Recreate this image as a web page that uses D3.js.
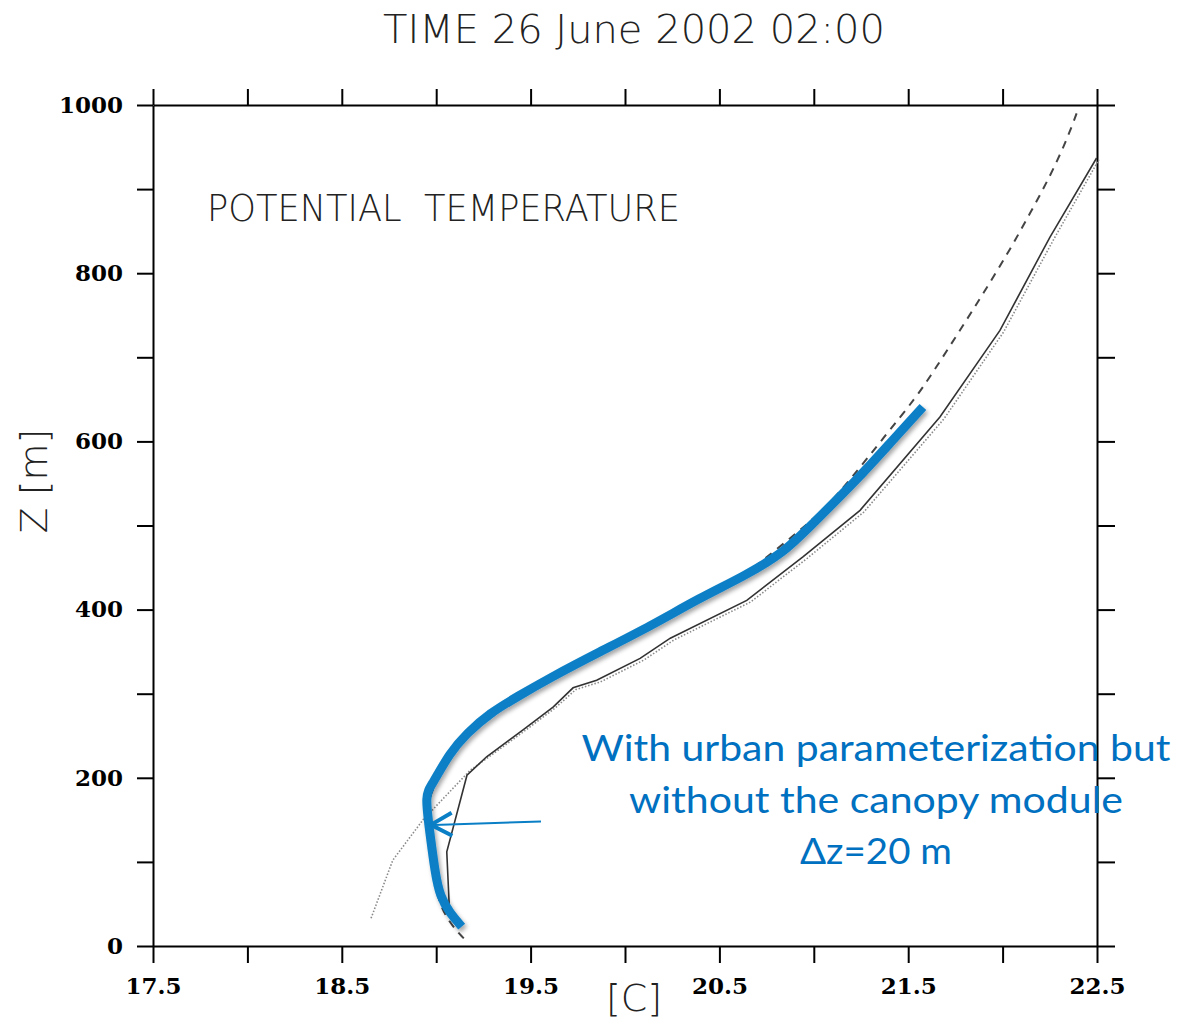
<!DOCTYPE html>
<html>
<head>
<meta charset="utf-8">
<script src="https://cdn.jsdelivr.net/npm/d3@7"></script>
<style>
  html, body { margin: 0; padding: 0; background: #fff; }
  svg { display: block; }
</style>
</head>
<body>
<svg id="chart" width="1178" height="1019"></svg>
<script>
// ---------------- DATA ----------------
const titleText = "TIME 26 June 2002 02:00";
const panelLabel = "POTENTIAL  TEMPERATURE";
const xAxisLabel = "[C]";
const yAxisLabel = "Z [m]";
const annotationLines = ["With urban parameterization but", "without the canopy module", "\u0394z=20 m"];

const xDomain = [17.5, 22.5];
const yDomain = [0, 1000];
const xTicks = [17.5, 18, 18.5, 19, 19.5, 20, 20.5, 21, 21.5, 22, 22.5];
const xTickLabels = [17.5, 18.5, 19.5, 20.5, 21.5, 22.5];
const yTicks = [0, 100, 200, 300, 400, 500, 600, 700, 800, 900, 1000];
const yTickLabels = [0, 200, 400, 600, 800, 1000];

// solid profile
const solidT = [19.07, 19.056, 19.163, 19.267, 19.46, 19.619, 19.725, 19.85, 20.08, 20.24, 20.645, 20.944, 21.245, 21.668, 21.986, 22.251, 22.498];
const solidZ = [43, 112, 203, 225, 257, 284, 307, 316, 342, 366, 411, 463, 518, 629, 732, 843, 937];

// dotted profile
const dottedT = [18.655, 18.77, 18.93, 19.18, 19.28, 19.47, 19.63, 19.74, 19.87, 20.1, 20.26, 20.665, 20.965, 21.265, 21.69, 22.005, 22.27, 22.51];
const dottedZ = [33, 102, 150, 209, 225, 256, 283, 305, 314, 340, 364, 409, 461, 516, 627, 730, 840, 935];

// dashed profile
const dashedT = [19.146, 19.06, 19.0, 18.97, 18.95, 18.99, 19.08, 19.28, 19.6, 20.13, 20.40, 20.62, 20.733, 20.909, 21.05, 21.192, 21.368, 21.545, 21.651, 21.774, 21.898, 22.039, 22.145, 22.251, 22.339, 22.392];
const dashedZ = [9, 30, 60, 110, 170, 190, 230, 277, 318, 380, 413, 440, 459, 491, 518, 554, 604, 653, 689, 732, 776, 828, 871, 915, 958, 990];

// highlighted (blue) profile
const blueT = [19.135, 19.073, 19.020, 18.994, 18.967, 18.940, 18.976, 19.073, 19.162, 19.285, 19.426, 19.603, 19.868, 20.132, 20.397, 20.625, 20.837, 20.980, 21.227, 21.404, 21.578];
const blueZ = [23, 39, 59, 87, 134, 180, 191, 230, 253, 277, 296, 319, 350, 380, 414, 439, 467, 499, 554, 598, 641];

// arrow (from, to) in data units
const arrowT = [19.555, 18.972];
const arrowZ = [148, 144];

// ---------------- CHART ----------------
const svg = d3.select("#chart");
const x = d3.scaleLinear().domain(xDomain).range([153, 1097]);
const y = d3.scaleLinear().domain(yDomain).range([946, 105]);

const defs = svg.append("defs");
const f = defs.append("filter").attr("id", "shadow")
  .attr("x", "-20%").attr("y", "-20%").attr("width", "140%").attr("height", "140%");
f.append("feDropShadow").attr("dx", 2).attr("dy", 3).attr("stdDeviation", 2)
  .attr("flood-color", "#000").attr("flood-opacity", 0.35);

const labelFont = "'DejaVu Serif', serif";
const thinFont = "'DejaVu Sans', sans-serif";

function styleAxis(g) {
  g.selectAll("path.domain").attr("stroke", "#000").attr("stroke-width", 2);
  g.selectAll(".tick line").attr("stroke", "#000").attr("stroke-width", 2);
  g.selectAll(".tick text").attr("fill", "#000")
    .style("font-family", labelFont).style("font-weight", "bold").style("font-size", "23px");
}

const fmtX = v => xTickLabels.some(t => Math.abs(t - v) < 1e-9) ? d3.format(".1f")(v) : "";
const fmtY = v => yTickLabels.includes(v) ? String(v) : "";

svg.append("g").attr("transform", `translate(0,${y(0)})`)
  .call(d3.axisBottom(x).tickValues(xTicks).tickFormat(fmtX).tickSize(17).tickSizeOuter(0).tickPadding(15))
  .call(styleAxis);
svg.append("g").attr("transform", `translate(0,${y(1000)})`)
  .call(d3.axisTop(x).tickValues(xTicks).tickFormat(() => "").tickSize(16).tickSizeOuter(0))
  .call(styleAxis);
svg.append("g").attr("transform", `translate(${x(17.5)},0)`)
  .call(d3.axisLeft(y).tickValues(yTicks).tickFormat(fmtY).tickSize(16).tickSizeOuter(0).tickPadding(14))
  .call(styleAxis);
svg.append("g").attr("transform", `translate(${x(22.5)},0)`)
  .call(d3.axisRight(y).tickValues(yTicks).tickFormat(() => "").tickSize(18).tickSizeOuter(0))
  .call(styleAxis);

// profiles
const pts = (T, Z) => T.map((t, i) => [x(t), y(Z[i])]);
const lineLin = d3.line();
const lineSmooth = d3.line().curve(d3.curveBasis);

svg.append("path").attr("d", lineLin(pts(dottedT, dottedZ)))
  .attr("fill", "none").attr("stroke", "#8a8a8a").attr("stroke-width", 1.6)
  .attr("stroke-dasharray", "1.5,1.8");
svg.append("path").attr("d", lineLin(pts(solidT, solidZ)))
  .attr("fill", "none").attr("stroke", "#333").attr("stroke-width", 1.6);
svg.append("path").attr("d", lineSmooth(pts(dashedT, dashedZ)))
  .attr("fill", "none").attr("stroke", "#444").attr("stroke-width", 2)
  .attr("stroke-dasharray", "8,7");

svg.append("path").attr("d", lineSmooth(pts(blueT, blueZ)))
  .attr("fill", "none").attr("stroke", "#0a7fc6").attr("stroke-width", 9)
  .attr("stroke-linejoin", "round").attr("stroke-linecap", "butt")
  .attr("filter", "url(#shadow)");

// arrow
const ax0 = x(arrowT[0]), ay0 = y(arrowZ[0]), ax1 = x(arrowT[1]), ay1 = y(arrowZ[1]);
svg.append("line").attr("x1", ax0).attr("y1", ay0).attr("x2", ax1 + 3).attr("y2", ay1)
  .attr("stroke", "#0a7fc6").attr("stroke-width", 2);
const ang = Math.atan2(ay0 - ay1, ax0 - ax1);
const hl = 24, ha = 0.5;
svg.append("path")
  .attr("d", `M${ax1 + hl * Math.cos(ang - ha)},${ay1 + hl * Math.sin(ang - ha)} L${ax1},${ay1} L${ax1 + hl * Math.cos(ang + ha)},${ay1 + hl * Math.sin(ang + ha)}`)
  .attr("fill", "none").attr("stroke", "#0a7fc6").attr("stroke-width", 4)
  .attr("stroke-linejoin", "miter");

// texts
svg.append("text").attr("x", 634).attr("y", 43).attr("text-anchor", "middle")
  .attr("textLength", 502).attr("lengthAdjust", "spacingAndGlyphs")
  .style("font-family", thinFont).style("font-weight", 200).style("font-size", "39px")
  .attr("fill", "#222").text(titleText);

svg.append("text").attr("x", 207).attr("y", 221)
  .attr("textLength", 473).attr("lengthAdjust", "spacingAndGlyphs")
  .style("font-family", thinFont).style("font-weight", 200).style("font-size", "38px")
  .style("white-space", "pre").attr("fill", "#222").text(panelLabel);

svg.append("text").attr("transform", "translate(47,481) rotate(-90)").attr("text-anchor", "middle")
  .style("font-family", thinFont).style("font-weight", 200).style("font-size", "38px")
  .attr("fill", "#222").text(yAxisLabel);

svg.append("text").attr("x", 634).attr("y", 1011).attr("text-anchor", "middle")
  .style("font-family", thinFont).style("font-weight", 200).style("font-size", "38px")
  .attr("fill", "#222").text(xAxisLabel);

const annW = [589, 494, 152];
const annY = [761, 813, 864];
annotationLines.forEach((t, i) => {
  svg.append("text").attr("x", 876).attr("y", annY[i]).attr("text-anchor", "middle")
    .attr("textLength", annW[i]).attr("lengthAdjust", "spacingAndGlyphs")
    .style("font-family", "Lato, 'Open Sans', sans-serif").style("font-size", "37px")
    .attr("fill", "#0070c0").text(t);
});
</script>
</body>
</html>
